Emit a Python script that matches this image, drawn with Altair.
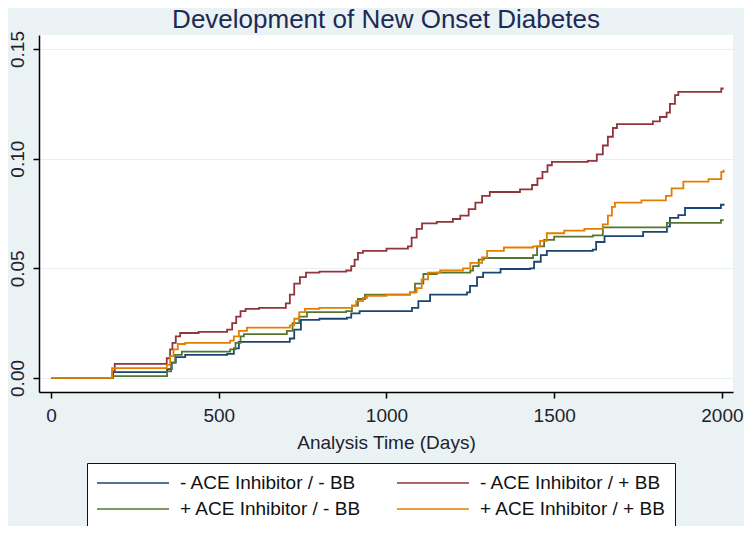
import altair as alt
import pandas as pd

# ---- data ----
series_names = ["- ACE Inhibitor / - BB", "+ ACE Inhibitor / - BB",
                "- ACE Inhibitor / + BB", "+ ACE Inhibitor / + BB"]
series_colors = ["#1A476F", "#55752F", "#90353B", "#E37E00"]

blue_days = [0, 185, 346, 360, 372, 400, 525, 545, 560, 712, 725, 745, 800, 882, 895, 920,
             1076, 1095, 1130, 1240, 1249, 1270, 1288, 1340, 1428, 1440, 1460, 1478, 1615,
             1625, 1650, 1765, 1836, 1845, 1870, 1890, 1997, 2005]
blue_vals = [0, 0.0027, 0.004, 0.007, 0.0095, 0.0105, 0.011, 0.0135, 0.0165, 0.018, 0.022,
             0.0265, 0.027, 0.0275, 0.0295, 0.0305, 0.032, 0.035, 0.038, 0.039, 0.042, 0.046,
             0.048, 0.0497, 0.050, 0.053, 0.056, 0.058, 0.0585, 0.062, 0.0647, 0.0666, 0.069,
             0.073, 0.0743, 0.0775, 0.079, 0.0795]

red_days = [0, 183, 190, 345, 355, 362, 372, 385, 440, 525, 540, 552, 565, 580, 620, 700, 712,
            725, 742, 760, 800, 880, 895, 905, 915, 930, 1000, 1064, 1075, 1090, 1106, 1150,
            1198, 1220, 1245, 1265, 1285, 1308, 1398, 1434, 1450, 1465, 1480, 1493, 1600, 1627,
            1645, 1660, 1675, 1687, 1794, 1815, 1835, 1845, 1860, 1870, 1998, 2005]
red_vals = [0, 0.003, 0.0064, 0.009, 0.013, 0.016, 0.019, 0.0205, 0.021, 0.022, 0.025, 0.028,
            0.0305, 0.0315, 0.032, 0.034, 0.038, 0.043, 0.046, 0.048, 0.0485, 0.049, 0.051,
            0.054, 0.057, 0.058, 0.059, 0.060, 0.064, 0.068, 0.0705, 0.0712, 0.0725, 0.074,
            0.077, 0.080, 0.083, 0.0848, 0.086, 0.088, 0.091, 0.094, 0.097, 0.0985, 0.099,
            0.102, 0.106, 0.110, 0.114, 0.1158, 0.117, 0.119, 0.121, 0.125, 0.129, 0.1305,
            0.132, 0.132]

green_days = [0, 185, 346, 358, 370, 390, 534, 550, 565, 575, 703, 720, 740, 763, 880, 897,
              915, 936, 1070, 1085, 1110, 1150, 1250, 1258, 1275, 1290, 1437, 1449, 1470, 1500,
              1615, 1645, 1836, 1997, 2005]
green_vals = [0, 0.0008, 0.003, 0.007, 0.0105, 0.012, 0.013, 0.016, 0.019, 0.020, 0.0215,
              0.025, 0.028, 0.030, 0.0305, 0.033, 0.036, 0.038, 0.039, 0.043, 0.0474, 0.048,
              0.049, 0.051, 0.054, 0.0547, 0.056, 0.060, 0.063, 0.0645, 0.065, 0.0687, 0.0707,
              0.072, 0.072]

orange_days = [0, 182, 345, 355, 365, 378, 400, 534, 545, 560, 584, 712, 725, 740, 757, 800,
               897, 910, 930, 942, 1000, 1070, 1090, 1105, 1124, 1160, 1228, 1250, 1285, 1300,
               1350, 1437, 1458, 1478, 1530, 1590, 1645, 1660, 1672, 1681, 1760, 1833, 1850,
               1885, 1960, 1998, 2005]
orange_vals = [0, 0.0045, 0.006, 0.010, 0.013, 0.0155, 0.016, 0.017, 0.019, 0.0215, 0.023,
               0.024, 0.027, 0.030, 0.0315, 0.032, 0.033, 0.035, 0.0365, 0.0375, 0.038, 0.039,
               0.041, 0.045, 0.048, 0.049, 0.050, 0.0525, 0.055, 0.058, 0.0595, 0.060, 0.0625,
               0.066, 0.0672, 0.068, 0.070, 0.074, 0.078, 0.080, 0.081, 0.083, 0.0865, 0.0895,
               0.0907, 0.094, 0.095]

x_ticks = [0, 500, 1000, 1500, 2000]
y_ticks = [0.00, 0.05, 0.10, 0.15]

rows = []
for name, days, vals in [(series_names[0], blue_days, blue_vals),
                         (series_names[2], red_days, red_vals),
                         (series_names[1], green_days, green_vals),
                         (series_names[3], orange_days, orange_vals)]:
    for d, v in zip(days, vals):
        rows.append({"group": name, "day": d, "value": v})
df = pd.DataFrame(rows)

FONT = "Liberation Sans"
TXT = "#1e2230"

chart = alt.Chart(df).mark_line(interpolate="step-after", strokeWidth=1.8).encode(
    x=alt.X("day:Q",
            scale=alt.Scale(domain=[-35.8, 2033], nice=False, zero=False),
            axis=alt.Axis(title="Analysis Time (Days)", values=x_ticks, grid=False,
                          format="d", tickSize=6, labelPadding=8, titlePadding=8)),
    y=alt.Y("value:Q",
            scale=alt.Scale(domain=[-0.0064, 0.1564], nice=False, zero=False),
            axis=alt.Axis(title=None, values=y_ticks, format=".2f", grid=True,
                          gridColor="#E6EFF1", gridWidth=1.2,
                          tickSize=6, labelAngle=270, labelAlign="center",
                          labelBaseline="bottom", labelPadding=6)),
    color=alt.Color("group:N",
                    scale=alt.Scale(domain=series_names, range=series_colors),
                    sort=series_names,
                    legend=alt.Legend(title=None, orient="none", legendX=48, legendY=428,
                                      columns=2, symbolType="M-1,0H6.2", symbolSize=400,
                                      symbolStrokeWidth=1.5, labelFontSize=19,
                                      labelFont=FONT, labelColor="#111111",
                                      labelOffset=62, columnPadding=32, rowPadding=5,
                                      padding=9, fillColor="white", strokeColor="#111111",
                                      labelLimit=400)),
).properties(
    width=694,
    height=357,
    title=alt.TitleParams("Development of New Onset Diabetes", fontSize=26, font=FONT,
                          fontWeight="normal", color="#1c2a56", anchor="middle", offset=-2),
    background="#EAF2F3",
    padding={"left": 31, "top": 27, "right": 11, "bottom": 134},
    autosize=alt.AutoSizeParams(type="none"),
).configure_view(
    fill="white", stroke=None
).configure_axis(
    domainColor="#000000", domainWidth=1.5, tickColor="#000000", tickWidth=1.5,
    labelFont=FONT, labelFontSize=19, labelColor=TXT,
    titleFont=FONT, titleFontSize=19, titleFontWeight="normal", titleColor=TXT,
)

chart.save("out.html", embed_options={"renderer": "svg", "actions": False})
